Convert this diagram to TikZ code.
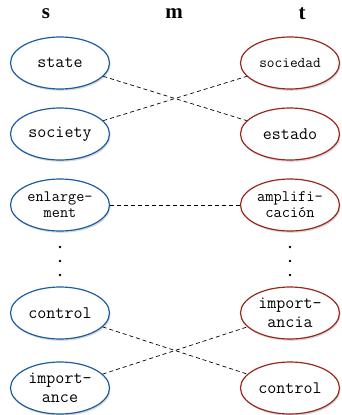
\documentclass[tikz,border=0pt]{standalone}
\usepackage{fontspec}
\setmainfont{Liberation Serif}
\usetikzlibrary{shapes.geometric,shadows}

\definecolor{srcblue}{RGB}{28,92,160}
\definecolor{tgtred}{RGB}{155,38,28}

\begin{document}
\begin{tikzpicture}[x = 1pt, y = -1pt,
        word/.style = {ellipse, draw, fill = white, line width = 1.2pt,
            minimum width = 99pt, minimum height = 52pt, inner sep = 0pt,
            align = center, font = \fontsize{17.5}{19}\ttfamily,
            drop shadow = {shadow xshift = 1pt, shadow yshift = -1.8pt, opacity = 0.3}},
        src/.style = {word, draw = srcblue},
        tgt/.style = {word, draw = tgtred},
        link/.style = {dash pattern = on 4pt off 3pt, line width = 0.7pt},
        head/.style = {font = \fontsize{21}{24}\bfseries}]
        \useasboundingbox (0,0) rectangle (341,415);

        \node[head] (hs) at (46,14) {s};
        \node[head] (hm) at (174,14) {m};
        \node[head] (ht) at (302,14) {t};

        \node[src] (state) at (60,63) {state};
        \node[src] (society) at (60,134) {society};
        \node[src, font = \fontsize{15.8}{16}\ttfamily] (enlarge) at (60,205) {enlarge-\\ment};
        \node[src] (controlS) at (60,313) {control};
        \node[src] (importS) at (60,388) {import-\\ance};

        \node[tgt, font = \fontsize{14.9}{16}\ttfamily] (sociedad) at (290,63) {sociedad};
        \node[tgt] (estado) at (290,134) {estado};
        \node[tgt, font = \fontsize{16}{16}\ttfamily] (amplif) at (290,205) {amplifi-\\cación};
        \node[tgt] (importT) at (290,313) {import-\\ancia};
        \node[tgt] (controlT) at (290,388) {control};

        \foreach \y in {247,261,275} {
            \fill (60,\y) circle(1.3pt);
            \fill (290,\y) circle(1.3pt);
        }

        \draw[link] (state) -- (estado);
        \draw[link] (society) -- (sociedad);
        \draw[link] (enlarge) -- (amplif);
        \draw[link] (controlS) -- (controlT);
        \draw[link] (importS) -- (importT);
    \end{tikzpicture}
\end{document}
